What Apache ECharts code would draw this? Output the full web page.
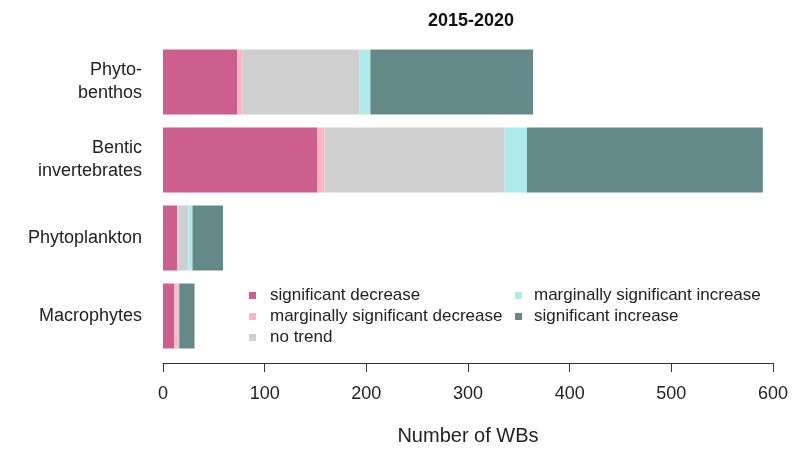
<!DOCTYPE html>
<html>
<head>
<meta charset="utf-8">
<script src="https://cdn.jsdelivr.net/npm/echarts@6/dist/echarts.min.js"></script>
<style>
html,body{margin:0;padding:0;background:#fff;}
#chart{width:795px;height:452px;}
</style>
</head>
<body>
<div id="chart"></div>
<script>
const categories = ['Phyto-\nbenthos', 'Bentic\ninvertebrates', 'Phytoplankton', 'Macrophytes'];
const seriesNames = ['significant decrease', 'marginally significant decrease', 'no trend', 'marginally significant increase', 'significant increase'];
const sigDecrease = [73, 152, 14, 11];
const margDecrease = [5, 7, 1, 3];
const noTrend = [115, 177, 10, 2];
const margIncrease = [11, 22, 4, 0];
const sigIncrease = [160, 232, 30, 15];
const xTicks = [0, 100, 200, 300, 400, 500, 600];
const title = '2015-2020';
const xName = 'Number of WBs';

const colors = ['#CD5F8E', '#FFB6C1', '#CFCFCF', '#AFEBEB', '#638A88'];
const values = [sigDecrease, margDecrease, noTrend, margIncrease, sigIncrease];
const FONT = "'Liberation Sans', Arial, sans-serif";

const chart = echarts.init(document.getElementById('chart'), null, {renderer: 'canvas'});
chart.setOption({
  animation: false,
  backgroundColor: '#fff',
  title: {
    text: title,
    left: 466, top: 7, textAlign: 'center',
    textStyle: {fontFamily: FONT, fontSize: 18, fontWeight: 'bold', color: '#111'}
  },
  grid: {left: 163, right: 22, top: 43, bottom: 97, containLabel: false},
  legend: [
    {
      data: seriesNames.slice(0, 3),
      orient: 'vertical', left: 244, top: 282,
      itemWidth: 7, itemHeight: 7, itemGap: 4, icon: 'rect',
      textStyle: {fontFamily: FONT, fontSize: 17, color: '#222', lineHeight: 17, padding: [0, 0, 0, 9]}
    },
    {
      data: seriesNames.slice(3),
      orient: 'vertical', left: 510, top: 282,
      itemWidth: 7, itemHeight: 7, itemGap: 4, icon: 'rect',
      textStyle: {fontFamily: FONT, fontSize: 17, color: '#222', lineHeight: 17, padding: [0, 0, 0, 7]}
    }
  ],
  xAxis: {
    type: 'value', min: xTicks[0], max: xTicks[xTicks.length - 1], interval: 100,
    offset: 8,
    name: xName, nameLocation: 'middle', nameGap: 63,
    nameTextStyle: {fontFamily: FONT, fontSize: 20, color: '#222'},
    axisLine: {show: true, lineStyle: {color: '#333', width: 1}},
    axisTick: {show: true, length: 9, lineStyle: {color: '#333'}},
    axisLabel: {fontFamily: FONT, fontSize: 18, color: '#222', margin: 22},
    splitLine: {show: false}
  },
  yAxis: {
    type: 'category', data: categories, inverse: true,
    axisLine: {show: false}, axisTick: {show: false},
    axisLabel: {fontFamily: FONT, fontSize: 18, color: '#222', margin: 21, lineHeight: 23, align: 'right'}
  },
  series: seriesNames.map((n, i) => ({
    name: n, type: 'bar', stack: 'total', barWidth: 65,
    itemStyle: {color: colors[i]},
    data: values[i]
  }))
});
</script>
</body>
</html>
